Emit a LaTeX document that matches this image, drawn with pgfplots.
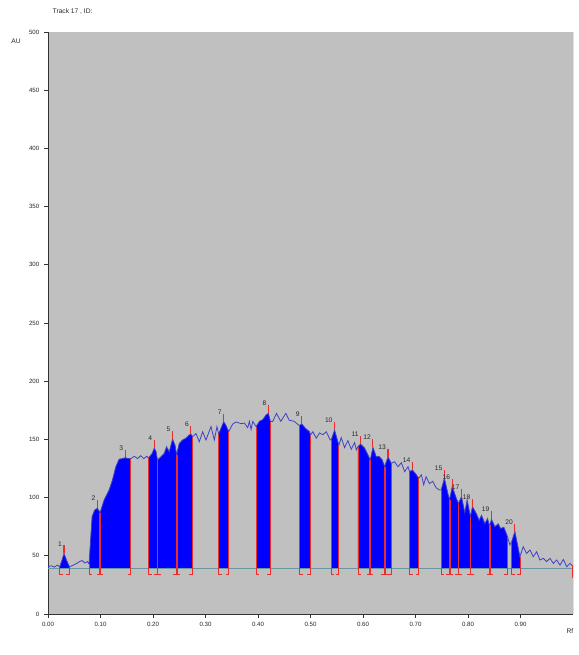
\documentclass[border=0pt]{standalone}
\usepackage{fontspec}
\setmainfont{Liberation Sans}
\usepackage{pgfplots}
\usepackage{pgfplotstable}
\pgfplotsset{compat=1.18}
\usepgfplotslibrary{fillbetween}
\definecolor{bggray}{RGB}{192,192,192}
\definecolor{tracec}{RGB}{65,65,195}
\definecolor{peakfill}{RGB}{0,0,255}
\definecolor{basec}{RGB}{105,150,160}
\definecolor{mred}{RGB}{235,45,45}

\pgfplotstableread{
x y
0.0000 40.5
0.0060 41.5
0.0120 40.3
0.0180 42.0
0.0223 40.5
0.0265 46.0
0.0305 52.0
0.0350 46.5
0.0410 40.5
0.0480 42.0
0.0550 43.5
0.0600 45.0
0.0650 46.0
0.0700 43.8
0.0750 45.0
0.0782 43.0
0.0840 83.6
0.0888 89.3
0.0941 90.8
0.0992 87.0
0.1069 98.0
0.1164 106.5
0.1227 115.0
0.1292 126.5
0.1355 133.0
0.1420 133.5
0.1469 134.3
0.1530 133.5
0.1578 133.5
0.1645 135.5
0.1705 133.5
0.1765 136.0
0.1825 133.5
0.1880 135.5
0.1915 134.0
0.1985 138.0
0.2023 142.4
0.2055 140.0
0.2085 132.3
0.2150 135.0
0.2214 138.0
0.2258 143.7
0.2309 139.4
0.2373 150.3
0.2420 145.0
0.2449 136.6
0.2500 146.6
0.2563 149.5
0.2627 151.0
0.2691 153.8
0.2723 154.5
0.2754 152.3
0.2818 155.0
0.2882 148.0
0.2945 156.6
0.3009 149.5
0.3105 161.0
0.3168 149.5
0.3218 161.0
0.3250 154.6
0.3300 160.0
0.3346 165.2
0.3390 162.0
0.3442 156.6
0.3518 163.2
0.3582 165.0
0.3677 163.5
0.3741 164.0
0.3804 160.0
0.3836 165.5
0.3868 158.5
0.3900 165.5
0.3964 161.0
0.4027 165.5
0.4091 167.0
0.4154 171.0
0.4198 172.4
0.4237 165.2
0.4282 165.5
0.4352 172.4
0.4434 165.5
0.4531 172.4
0.4595 166.5
0.4690 165.5
0.4771 162.4
0.4790 162.0
0.4834 163.2
0.4904 159.5
0.4981 156.6
0.5000 153.8
0.5045 156.6
0.5109 151.0
0.5173 155.5
0.5236 154.0
0.5300 156.6
0.5376 149.5
0.5394 149.5
0.5458 158.0
0.5540 145.0
0.5585 151.5
0.5649 143.0
0.5712 149.0
0.5776 141.5
0.5840 147.2
0.5872 141.0
0.5903 143.7
0.5954 146.0
0.6031 142.5
0.6094 136.6
0.6139 132.3
0.6189 143.2
0.6253 135.0
0.6304 135.5
0.6367 132.3
0.6412 126.5
0.6476 135.0
0.6539 129.4
0.6603 130.8
0.6667 126.5
0.6730 130.0
0.6794 122.3
0.6858 126.5
0.6889 122.3
0.6940 123.7
0.7010 120.0
0.7061 116.6
0.7112 119.6
0.7156 111.0
0.7201 118.0
0.7265 112.0
0.7328 114.0
0.7392 108.5
0.7456 106.5
0.7488 106.5
0.7551 116.6
0.7615 103.7
0.7649 98.0
0.7700 109.4
0.7780 99.0
0.7819 95.0
0.7876 100.8
0.7939 87.0
0.7983 98.0
0.8047 83.6
0.8085 92.2
0.8161 86.0
0.8212 80.5
0.8257 84.8
0.8321 77.7
0.8372 82.0
0.8403 76.5
0.8416 76.5
0.8448 81.3
0.8512 75.0
0.8575 77.5
0.8620 73.5
0.8683 74.5
0.8753 66.4
0.8798 59.3
0.8830 62.0
0.8893 70.7
0.8989 49.2
0.9052 57.8
0.9116 52.0
0.9180 55.0
0.9243 49.2
0.9307 53.5
0.9370 46.4
0.9434 47.8
0.9498 45.0
0.9561 47.8
0.9625 43.5
0.9689 46.4
0.9752 42.0
0.9816 46.9
0.9880 40.6
0.9943 43.5
1.0000 41.0
}\tracedata

\pgfplotstableread{
x y lab
0.0305 55.5 1
0.0941 94.3 2
0.1469 137.8 3
0.2023 145.9 4
0.2373 153.8 5
0.2723 158.0 6
0.3346 168.7 7
0.4198 175.9 8
0.4834 166.7 9
0.5458 161.5 10
0.5954 149.5 11
0.6189 146.7 12
0.6476 138.5 13
0.6940 127.2 14
0.7551 120.1 15
0.7700 112.9 16
0.7876 104.3 17
0.8085 95.7 18
0.8448 84.8 19
0.8893 74.2 20
}\peaktops

\begin{document}
\begin{tikzpicture}
\begin{axis}[
  at={(0,0)}, anchor=south west,
  width=393.75pt, height=436.5pt, scale only axis,
  xmin=0, xmax=1, ymin=0, ymax=500,
  clip=false,
  axis background/.style={fill=bggray},
  axis lines=left,
  axis line style={-, draw=black!80, line width=0.6pt},
  tick align=outside, major tick length=3pt,
  tick style={draw=black!80, line width=0.5pt},
  xtick={0,0.1,0.2,0.3,0.4,0.5,0.6,0.7,0.8,0.9},
  xticklabels={0.00,0.10,0.20,0.30,0.40,0.50,0.60,0.70,0.80,0.90},
  ytick={0,50,100,150,200,250,300,350,400,450,500},
  ticklabel style={font=\fontsize{4.6}{5}\selectfont, text=black!85},
  /pgf/number format/assume math mode=true,
]
% right border line
\addplot[draw={rgb,255:red,222;green,222;blue,222}, line width=0.6pt, forget plot] coordinates {(1,0) (1,500)};
% baseline
\addplot[name path=base, basec, line width=0.7pt] coordinates {(0,39) (1,39)};
% invisible trace for fills
\addplot[name path=curve, draw=none] table {\tracedata};
\addplot[peakfill] fill between[of=curve and base, soft clip={domain=0.0223:0.0410}];
\addplot[peakfill] fill between[of=curve and base, soft clip={domain=0.0782:0.1578}];
\addplot[peakfill] fill between[of=curve and base, soft clip={domain=0.1915:0.2754}];
\addplot[peakfill] fill between[of=curve and base, soft clip={domain=0.3250:0.3442}];
\addplot[peakfill] fill between[of=curve and base, soft clip={domain=0.3964:0.4237}];
\addplot[peakfill] fill between[of=curve and base, soft clip={domain=0.4790:0.5000}];
\addplot[peakfill] fill between[of=curve and base, soft clip={domain=0.5394:0.5540}];
\addplot[peakfill] fill between[of=curve and base, soft clip={domain=0.5903:0.6539}];
\addplot[peakfill] fill between[of=curve and base, soft clip={domain=0.6889:0.7061}];
\addplot[peakfill] fill between[of=curve and base, soft clip={domain=0.7488:0.8753}];
\addplot[peakfill] fill between[of=curve and base, soft clip={domain=0.8830:0.8989}];
% trace line
\addplot[tracec, line width=0.6pt] table {\tracedata};
% thin start/end lines with feet
\addplot[mred, line width=0.6pt, unbounded coords=jump] coordinates {
(0.0223,40.5) (0.0223,34) (0.0283,34) (0.0223,nan)
(0.0410,40.5) (0.0410,34) (0.0350,34) (0.0410,nan)
(0.0782,43.0) (0.0782,34) (0.0842,34) (0.0782,nan)
(0.1578,133.5) (0.1578,34) (0.1518,34) (0.1578,nan)
(0.1915,134.0) (0.1915,34) (0.1975,34) (0.1915,nan)
(0.2754,152.3) (0.2754,34) (0.2694,34) (0.2754,nan)
(0.3250,154.6) (0.3250,34) (0.3310,34) (0.3250,nan)
(0.3442,156.6) (0.3442,34) (0.3382,34) (0.3442,nan)
(0.3964,161.0) (0.3964,34) (0.4024,34) (0.3964,nan)
(0.4237,165.2) (0.4237,34) (0.4177,34) (0.4237,nan)
(0.4790,162.0) (0.4790,34) (0.4850,34) (0.4790,nan)
(0.5000,153.8) (0.5000,34) (0.4940,34) (0.5000,nan)
(0.5394,149.5) (0.5394,34) (0.5454,34) (0.5394,nan)
(0.5540,145.0) (0.5540,34) (0.5480,34) (0.5540,nan)
(0.5903,143.7) (0.5903,34) (0.5963,34) (0.5903,nan)
(0.6539,129.4) (0.6539,34) (0.6479,34) (0.6539,nan)
(0.6889,122.3) (0.6889,34) (0.6949,34) (0.6889,nan)
(0.7061,116.6) (0.7061,34) (0.7001,34) (0.7061,nan)
(0.7488,106.5) (0.7488,34) (0.7548,34) (0.7488,nan)
(0.8753,66.4) (0.8753,34) (0.8693,34) (0.8753,nan)
(0.8830,62.0) (0.8830,34) (0.8890,34) (0.8830,nan)
(0.8989,49.2) (0.8989,34) (0.8929,34) (0.8989,nan)
(0.9995,42.0) (0.9995,31)
};
% thick internal boundaries
\addplot[mred, line width=1.4pt, unbounded coords=jump] coordinates {
(0.0992,87.0) (0.0992,34) (0.0992,nan)
(0.2085,132.3) (0.2085,34) (0.2085,nan)
(0.2449,136.6) (0.2449,34) (0.2449,nan)
(0.6139,132.3) (0.6139,34) (0.6139,nan)
(0.6412,126.5) (0.6412,34) (0.6412,nan)
(0.7649,98.0) (0.7649,34) (0.7649,nan)
(0.7819,95.0) (0.7819,34) (0.7819,nan)
(0.8047,83.6) (0.8047,34) (0.8047,nan)
(0.8416,76.5) (0.8416,34)
};
% feet of internal boundaries
\addplot[mred, line width=0.6pt, unbounded coords=jump] coordinates {
(0.0932,34) (0.1052,34) (0.0992,nan)
(0.2025,34) (0.2145,34) (0.2085,nan)
(0.2389,34) (0.2509,34) (0.2449,nan)
(0.6079,34) (0.6199,34) (0.6139,nan)
(0.6352,34) (0.6472,34) (0.6412,nan)
(0.7589,34) (0.7709,34) (0.7649,nan)
(0.7759,34) (0.7879,34) (0.7819,nan)
(0.7987,34) (0.8107,34) (0.8047,nan)
(0.8356,34) (0.8476,34)
};
% peak-top markers and numbers
\addplot[mred, only marks, mark=|, mark size=3pt, mark options={line width=0.8pt},
  nodes near coords, point meta=explicit symbolic,
  every node near coord/.append style={anchor=east, xshift=-1.2pt, yshift=4.2pt,
    inner sep=0pt, font=\fontsize{5}{6}\selectfont, text=black!85}]
  table[meta=lab] {\peaktops};
% texts
\node[anchor=base west, font=\fontsize{5}{6}\selectfont, text=black!85] at (axis cs:0,516) {Track 17 , ID:};
\node[font=\fontsize{5}{6}\selectfont, text=black!85] at (axis cs:-0.061,491.7) {AU};
\node[font=\fontsize{5}{6}\selectfont, text=black!85] at (axis cs:0.994,-14.3) {Rf};
\end{axis}
\pgfresetboundingbox
\path[use as bounding box] (-36pt,-30.75pt) rectangle (397.5pt,460.5pt);
\end{tikzpicture}
\end{document}
